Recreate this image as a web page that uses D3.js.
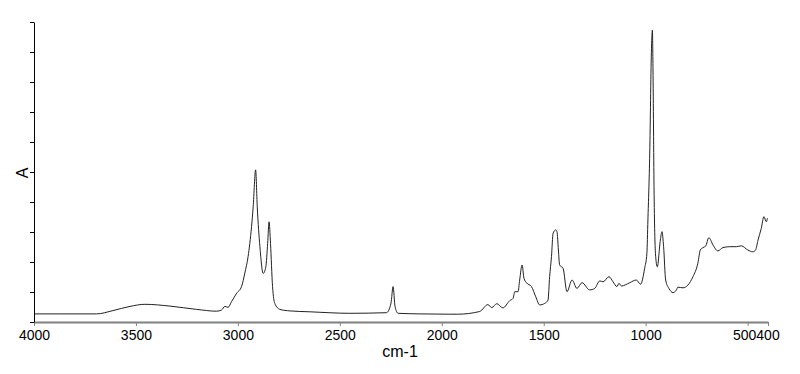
<!DOCTYPE html>
<html>
<head>
<meta charset="utf-8">
<script src="https://cdn.jsdelivr.net/npm/d3@7"></script>
<style>
  html, body { margin: 0; padding: 0; background: #ffffff; }
  svg { display: block; }
  text { font-family: Arial, "Liberation Sans", sans-serif; }
</style>
</head>
<body>
<svg id="chart" width="800" height="374"></svg>
<script>
// Wavenumbers (cm-1) and absorbance (arbitrary units)
const wavenumbers = [4000,3873,3693,3613,3529,3456,3333,3202,3104,3080,3064,3048,3031,3006,2982,2966,2950,2933,2925,2913,2905,2892,2876,2863,2854,2847,2840,2830,2819,2794,2745,2647,2451,2271,2249,2239,2229,2214,2108,1961,1922,1814,1774,1755,1730,1700,1667,1650,1642,1626,1618,1606,1597,1585,1560,1539,1520,1495,1479,1471,1462,1454,1441,1435,1428,1422,1405,1386,1361,1337,1312,1275,1250,1225,1209,1180,1160,1141,1131,1119,1078,1046,1025,1005,994,989,980,972,967,964,959,952,943,928,920,912,902,886,866,849,842,817,793,768,744,732,719,706,690,670,646,621,588,555,531,499,474,461,449,433,420,408,403];
const absorbance = [0.27,0.27,0.27,0.38,0.52,0.59,0.53,0.42,0.36,0.40,0.52,0.49,0.68,0.96,1.18,1.63,2.18,3.18,3.84,5.07,3.84,2.51,1.62,1.84,2.62,3.34,2.62,1.18,0.62,0.42,0.37,0.34,0.29,0.31,0.63,1.18,0.51,0.29,0.27,0.26,0.26,0.35,0.58,0.48,0.61,0.47,0.71,0.79,1.01,1.01,1.40,1.90,1.46,1.31,1.18,0.84,0.57,0.62,0.73,1.51,2.18,2.96,3.07,3.01,2.40,1.90,1.79,1.01,1.40,1.12,1.31,1.07,1.12,1.37,1.34,1.51,1.34,1.18,1.29,1.20,1.31,1.40,1.26,1.79,2.29,3.40,5.63,8.97,9.73,8.40,4.51,2.29,1.84,2.73,3.01,2.51,1.40,1.12,0.98,1.07,1.16,1.14,1.23,1.51,1.96,2.40,2.48,2.53,2.81,2.57,2.37,2.48,2.51,2.51,2.54,2.40,2.34,2.40,2.73,3.12,3.51,3.34,3.46];
const xTickValues = [4000,3500,3000,2500,2000,1500,1000,500,400];
const yTickValues = [0,1,2,3,4,5,6,7,8,9,10];
const xLabel = "cm-1";
const yLabel = "A";

const svg = d3.select("#chart");
const x = d3.scaleLinear().domain([4000, 400]).range([34, 768]);
const y = d3.scaleLinear().domain([0, 10]).range([322, 22]);

// spectrum
const data = wavenumbers.map((w, i) => ({w, a: absorbance[i]}));
svg.append("path")
  .datum(data)
  .attr("fill", "none")
  .attr("stroke", "#222")
  .attr("stroke-width", 1)
  .attr("stroke-linejoin", "round")
  .attr("d", d3.line().curve(d3.curveMonotoneX).x(d => x(d.w)).y(d => y(d.a)));

// x axis
const xAxis = svg.append("g")
  .attr("transform", "translate(0,322)")
  .call(d3.axisBottom(x).tickValues(xTickValues).tickFormat(d3.format("d")).tickSize(4).tickSizeOuter(0));
xAxis.select(".domain").attr("stroke", "#808080").attr("stroke-width", 2);
xAxis.selectAll(".tick line").attr("stroke", "#808080");
const mid = (x(500) + x(400)) / 2 - 2;
xAxis.selectAll(".tick text")
  .attr("fill", "#000").attr("font-size", 14).attr("dy", null).attr("y", 18)
  .style("font-family", "Arial, 'Liberation Sans', sans-serif")
  .each(function(d) {
    const t = d3.select(this);
    if (d === 500) t.attr("text-anchor", "end").attr("x", mid - x(500));
    if (d === 400) t.attr("text-anchor", "start").attr("x", mid - x(400));
  });

// y axis
const yAxis = svg.append("g")
  .attr("transform", "translate(34,0)")
  .call(d3.axisLeft(y).tickValues(yTickValues).tickFormat("").tickSize(4).tickSizeOuter(0));
yAxis.select(".domain").attr("stroke", "#000").attr("stroke-width", 1);
yAxis.selectAll(".tick line").attr("stroke", "#000");

// labels
svg.append("text")
  .attr("x", 400).attr("y", 357)
  .attr("text-anchor", "middle")
  .attr("font-size", 16)
  .attr("fill", "#000")
  .text(xLabel);

svg.append("text")
  .attr("transform", "translate(28,173) rotate(-90)")
  .attr("text-anchor", "middle")
  .attr("font-size", 16)
  .attr("fill", "#000")
  .text(yLabel);
</script>
</body>
</html>
